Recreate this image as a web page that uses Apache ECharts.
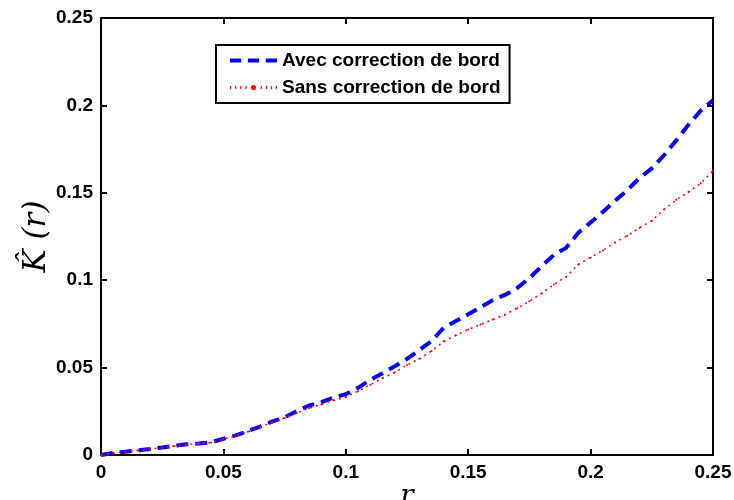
<!DOCTYPE html>
<html>
<head>
<meta charset="utf-8">
<script src="https://cdn.jsdelivr.net/npm/echarts@6/dist/echarts.min.js"></script>
<style>html,body{margin:0;padding:0;background:#fff;}#c{width:734px;height:500px;}</style>
</head>
<body>
<div id="c"></div>
<script>
var rValues = [0,0.005,0.01,0.015,0.02,0.025,0.03,0.035,0.04,0.045,0.05,0.055,0.06,0.065,0.07,0.075,0.08,0.085,0.09,0.095,0.1,0.105,0.11,0.115,0.12,0.125,0.13,0.135,0.14,0.145,0.15,0.155,0.16,0.165,0.17,0.175,0.18,0.185,0.19,0.195,0.2,0.205,0.21,0.215,0.22,0.225,0.23,0.235,0.24,0.245,0.25];
var avecCorrection = [0,0.0012,0.0018,0.0027,0.0034,0.0043,0.0053,0.0061,0.0066,0.0072,0.0093,0.0112,0.0137,0.0163,0.0192,0.0215,0.0252,0.0283,0.0302,0.0328,0.0348,0.0384,0.0430,0.0468,0.0508,0.0550,0.0600,0.0652,0.0728,0.0766,0.0805,0.0845,0.0886,0.0916,0.0955,0.1012,0.1080,0.1145,0.1185,0.1272,0.1330,0.1390,0.1455,0.1515,0.1585,0.1640,0.1715,0.1800,0.1890,0.1970,0.2030];
var sansCorrection = [0,0.0011,0.0017,0.0026,0.0034,0.0042,0.0051,0.0059,0.0066,0.0071,0.0090,0.0110,0.0133,0.0160,0.0186,0.0212,0.0240,0.0268,0.0290,0.0312,0.0332,0.0365,0.0402,0.0440,0.0472,0.0515,0.0550,0.0595,0.0650,0.0685,0.0718,0.0746,0.0775,0.0803,0.0840,0.0880,0.0925,0.0975,0.1020,0.1090,0.1130,0.1170,0.1215,0.1255,0.1300,0.1340,0.1405,0.1460,0.1505,0.1555,0.1625];
var seriesNames = ['Avec correction de bord', 'Sans correction de bord'];
var axisMin = 0, axisMax = 0.25, axisStep = 0.05;

function pairs(ys){ return rValues.map(function(r,i){ return [r, ys[i]]; }); }

var labelFont = {color:'#000', fontFamily:'Liberation Sans, Arial, sans-serif', fontWeight:'bold', fontSize:19};
var lineStyleAxis = {show:true, onZero:false, lineStyle:{color:'#000', width:2}};
var tickIn = {show:true, inside:true, length:6, lineStyle:{color:'#000', width:2}};

var dashIcon = 'path://M0,0H11V4H0Z M17.5,0H28.5V4H17.5Z M35,0H46V4H35Z';
var dotIcon = 'path://M0,0.5H1.2V3.5H0Z M5,0.5H6.2V3.5H5Z M10,0.5H11.2V3.5H10Z M15,0.5H16.2V3.5H15Z M20.5,2A2.5,2.5 0 1,0 25.5,2A2.5,2.5 0 1,0 20.5,2Z M30,0.5H31.2V3.5H30Z M35,0.5H36.2V3.5H35Z M40,0.5H41.2V3.5H40Z M44.8,0.5H46V3.5H44.8Z';

var chart = echarts.init(document.getElementById('c'), null, {renderer:'canvas'});
chart.setOption({
  animation:false,
  backgroundColor:'#fff',
  grid:{left:101, right:21, top:18, bottom:45, containLabel:false, outerBoundsMode:'none'},
  legend:{
    orient:'vertical', left:216, top:45,
    data:[{name:seriesNames[0], icon:dashIcon}, {name:seriesNames[1], icon:dotIcon}],
    symbolKeepAspect:true,
    backgroundColor:'#fff', borderColor:'#000', borderWidth:2,
    padding:[6,9,6,14], itemGap:8, itemWidth:47, itemHeight:20,
    textStyle:labelFont
  },
  xAxis:[{
    type:'value', min:axisMin, max:axisMax, interval:axisStep, position:'bottom',
    axisLine:lineStyleAxis, axisTick:tickIn, splitLine:{show:false},
    axisLabel:Object.assign({margin:8}, labelFont),
    name:'r', nameLocation:'middle', nameGap:28, nameMoveOverlap:false,
    nameTextStyle:{fontFamily:'DejaVu Serif, serif', fontStyle:'italic', fontSize:28, color:'#000'}
  },{
    type:'value', min:axisMin, max:axisMax, interval:axisStep, position:'top',
    axisLine:lineStyleAxis, axisTick:tickIn, splitLine:{show:false}, axisLabel:{show:false}
  }],
  yAxis:[{
    type:'value', min:axisMin, max:axisMax, interval:axisStep, position:'left',
    axisLine:lineStyleAxis, axisTick:tickIn, splitLine:{show:false},
    axisLabel:Object.assign({margin:8}, labelFont),
    name:'K\u0302 (r)', nameLocation:'middle', nameGap:49, nameRotate:90, nameMoveOverlap:false,
    nameTextStyle:{fontFamily:'DejaVu Serif, serif', fontStyle:'italic', fontSize:31, color:'#000'}
  },{
    type:'value', min:axisMin, max:axisMax, interval:axisStep, position:'right',
    axisLine:lineStyleAxis, axisTick:tickIn, splitLine:{show:false}, axisLabel:{show:false}
  }],
  series:[{
    name:seriesNames[0], type:'line', xAxisIndex:0, yAxisIndex:0,
    data:pairs(avecCorrection), showSymbol:false, symbol:'none',
    lineStyle:{color:'#0000ff', width:4, type:[12,7]}, itemStyle:{color:'#0000ff'}
  },{
    name:seriesNames[1], type:'line', xAxisIndex:0, yAxisIndex:0,
    data:pairs(sansCorrection), symbol:'circle', symbolSize:2, showSymbol:true,
    lineStyle:{color:'#ff0000', width:1.5, type:[2,4]}, itemStyle:{color:'#ff0000'}
  }]
});
</script>
</body>
</html>
